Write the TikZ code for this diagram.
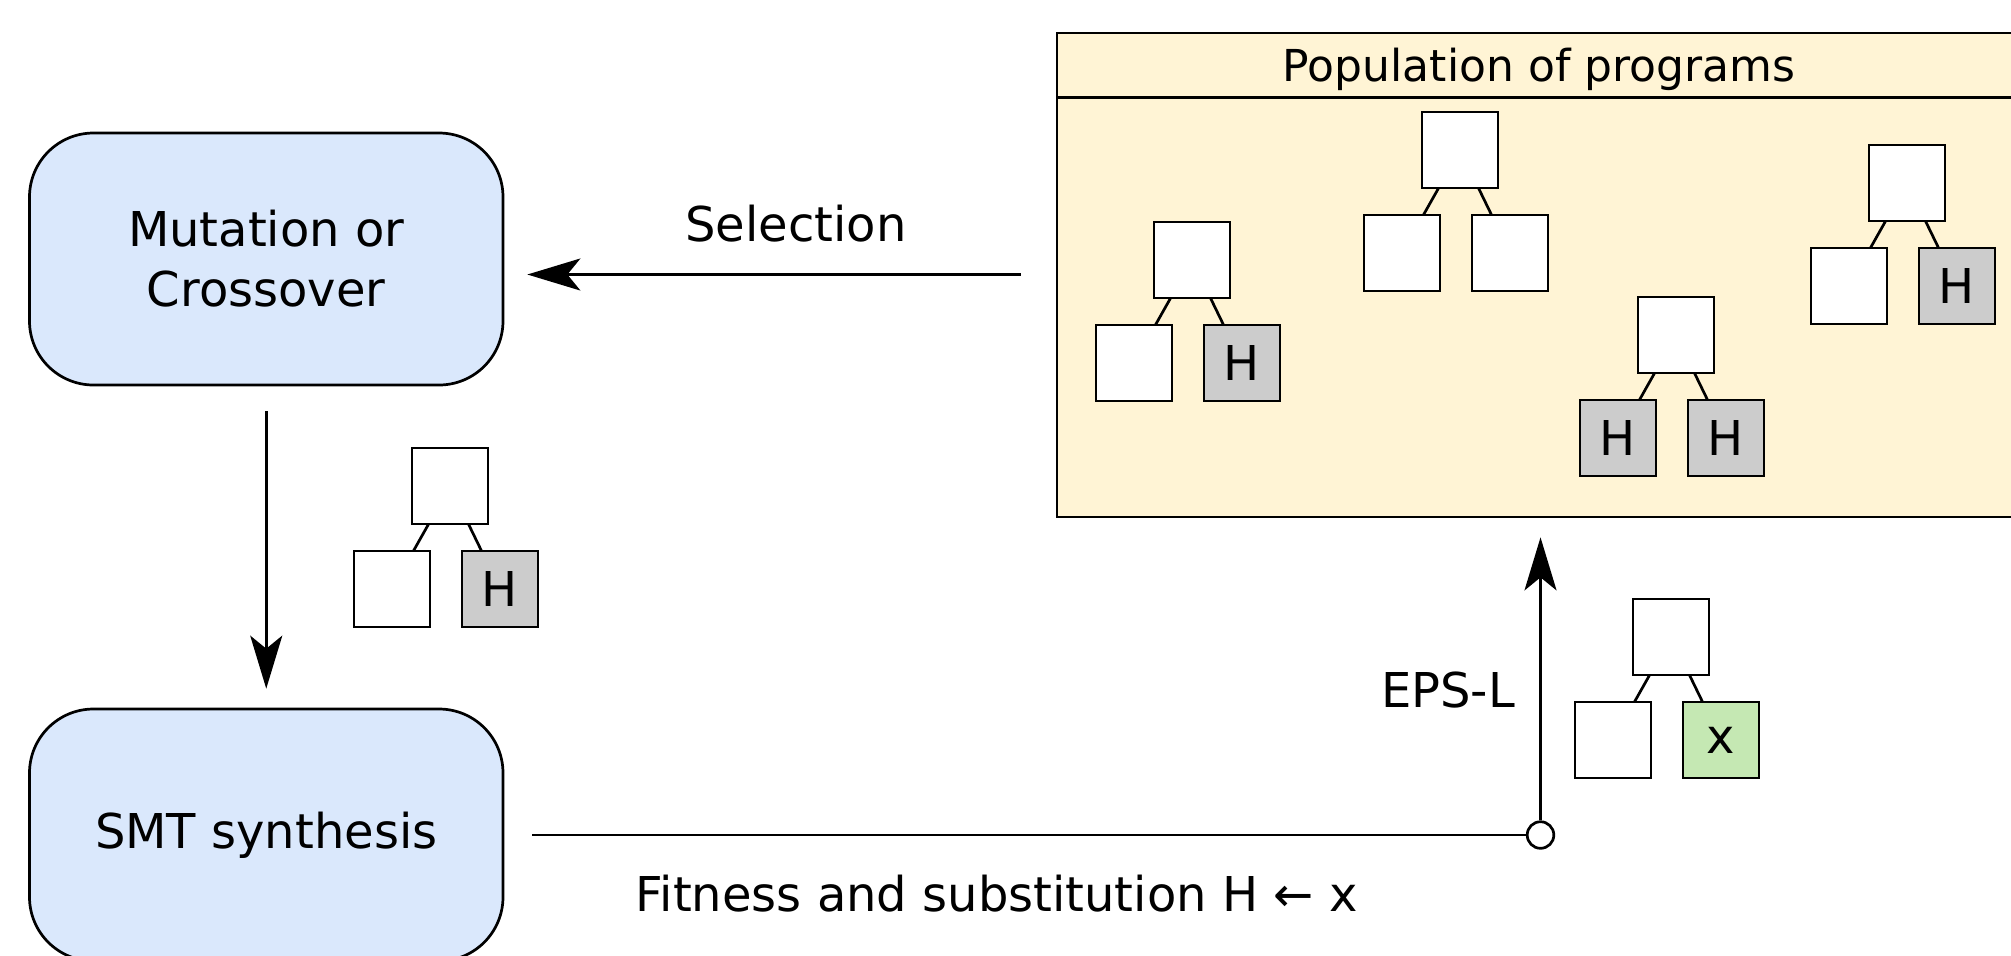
\documentclass[tikz,border=0pt]{standalone}
\usepackage{fontspec}
\setmainfont{DejaVu Sans}
\usetikzlibrary{arrows.meta,positioning}
\definecolor{procblue}{HTML}{DAE8FC}
\definecolor{popyellow}{HTML}{FFF4D5}
\definecolor{holegray}{HTML}{CCCCCC}
\definecolor{fillgreen}{HTML}{C5E8B3}

\begin{document}
\begin{tikzpicture}[x=0.5pt, y=-0.5pt, line width=1.35pt,
                    font=\fontsize{24}{30}\selectfont,
                    proc/.style = {draw, fill=procblue, rounded corners=32pt,
                      minimum width=236.75pt, minimum height=126pt, align=center},
                    cell/.style = {draw, fill=white, minimum size=38pt,
                      inner sep=0pt, outer sep=0pt},
                    hole/.style = {cell, fill=holegray},
                    subst/.style = {cell, fill=fillgreen},
                    flow/.style = {-{Stealth[length=26.5pt, width=16pt, inset=6.5pt]}}]
\useasboundingbox (0,0) rectangle (2011,955);
\clip (0,0) rectangle (2011,955);

% population container
\node[draw, fill=popyellow, minimum width=482pt, minimum height=242pt, inner sep=0pt] (pop) at (1539,275) {};
\node[draw, fill=popyellow, minimum width=482pt, minimum height=32.25pt, inner sep=0pt, text depth=0pt,
      anchor=north, font=\fontsize{22}{26}\selectfont] (poptitle) at (pop.north) {Population of programs};

% process boxes
\node[proc] (mut) at (266.25,259) {Mutation or\\Crossover};
\node[proc] (smt) at (266.25,835) {SMT synthesis};

% program trees
\node[cell] (ta) at (1192,260) {};
\node[cell, below left=13.5pt and -9pt of ta] (ta-l) {};
\node[hole, below right=13.5pt and -13pt of ta] (ta-r) {H};
\node[cell] (tb) at (1460,150) {};
\node[cell, below left=13.5pt and -9pt of tb] (tb-l) {};
\node[cell, below right=13.5pt and -13pt of tb] (tb-r) {};
\node[cell] (tc) at (1676,335) {};
\node[hole, below left=13.5pt and -9pt of tc] (tc-l) {H};
\node[hole, below right=13.5pt and -13pt of tc] (tc-r) {H};
\node[cell] (td) at (1907,183) {};
\node[cell, below left=13.5pt and -9pt of td] (td-l) {};
\node[hole, below right=13.5pt and -13pt of td] (td-r) {H};
\node[cell] (tm) at (450,486) {};
\node[cell, below left=13.5pt and -9pt of tm] (tm-l) {};
\node[hole, below right=13.5pt and -13pt of tm] (tm-r) {H};
\node[cell] (tx) at (1671,637) {};
\node[cell, below left=13.5pt and -9pt of tx] (tx-l) {};
\node[subst, below right=13.5pt and -13pt of tx] (tx-r) {x};
\foreach \t in {ta,tb,tc,td,tm,tx}
  \path (\t) edge (\t-l) edge (\t-r);

% flow
\coordinate (selrow) at (0,274.5);
\draw[flow, shorten <=17.5pt, shorten >=11.5pt] (pop.west |- selrow) -- (mut.east |- selrow);
\node (sellbl) at (796,224) {Selection};
\draw[flow, shorten <=12.5pt, shorten >=9.5pt] (mut) -- (smt);
\node[circle, draw, fill=white, minimum size=13.3pt, inner sep=0pt] (jn) at (1540.5,835) {};
\draw[shorten <=14pt] (smt) -- (jn);
\draw[flow, shorten >=9.5pt] (jn) -- (jn |- pop.south);
\node (epslbl) at (1448,690) {EPS-L};
\node (fitlbl) at (996.5,894) {Fitness and substitution H ← x};
\end{tikzpicture}
\end{document}
